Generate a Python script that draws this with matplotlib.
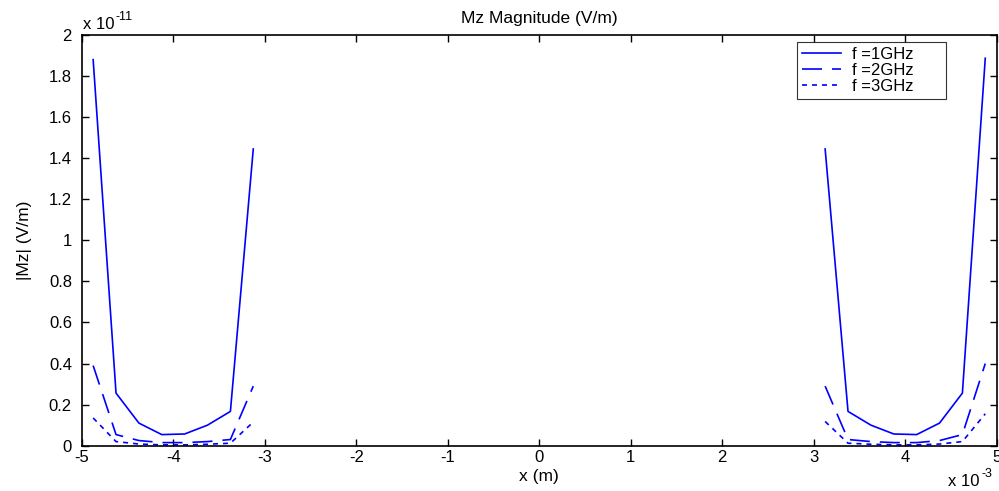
import numpy as np
import matplotlib
matplotlib.use("Agg")
import matplotlib.pyplot as plt

# x positions (units of 1e-3 m)
x_left = [-4.875, -4.625, -4.375, -4.125, -3.875, -3.625, -3.375, -3.125]
x_right = [3.125, 3.375, 3.625, 3.875, 4.125, 4.375, 4.625, 4.875]

# |Mz| values (units of 1e-11 V/m)
f1_left = [1.88, 0.256, 0.11, 0.054, 0.057, 0.10, 0.167, 1.445]
f1_right = [1.445, 0.167, 0.10, 0.057, 0.054, 0.11, 0.256, 1.887]
f2_left = [0.39, 0.054, 0.025, 0.015, 0.015, 0.02, 0.03, 0.29]
f2_right = [0.29, 0.03, 0.02, 0.015, 0.015, 0.025, 0.054, 0.40]
f3_left = [0.135, 0.02, 0.008, 0.004, 0.004, 0.007, 0.012, 0.115]
f3_right = [0.118, 0.012, 0.007, 0.004, 0.004, 0.008, 0.02, 0.155]

labels = ["f =1GHz", "f =2GHz", "f =3GHz"]
xticks = [-5, -4, -3, -2, -1, 0, 1, 2, 3, 4, 5]
yticks = [0, 0.2, 0.4, 0.6, 0.8, 1, 1.2, 1.4, 1.6, 1.8, 2]
ytick_labels = ["0", "0.2", "0.4", "0.6", "0.8", "1", "1.2", "1.4", "1.6", "1.8", "2"]

plt.rcParams['font.family'] = ['Liberation Sans', 'DejaVu Sans']
plt.rcParams['font.size'] = 12

fig = plt.figure(figsize=(9.99, 4.91), dpi=100)
ax = fig.add_axes([0.0818, 0.0923, 0.9159, 0.8364])

blue = (0, 0, 1)
styles = ['-', (0, (12, 6)), (0, (3, 3))]
series = [(f1_left, f1_right), (f2_left, f2_right), (f3_left, f3_right)]
for (yl, yr), ls, lab in zip(series, styles, labels):
    xs = x_left + [np.nan] + x_right
    ys = yl + [np.nan] + yr
    ax.plot(xs, ys, color=blue, lw=1.2, linestyle=ls, label=lab)

ax.set_xlim(-5, 5)
ax.set_ylim(0, 2)
ax.set_xticks(xticks)
ax.set_xticklabels([str(t) for t in xticks])
ax.set_yticks(yticks)
ax.set_yticklabels(ytick_labels)
ax.tick_params(axis='x', direction='in', top=True, length=5, width=1, labelsize=12, pad=3)
ax.tick_params(axis='y', direction='in', right=True, length=5, width=1, labelsize=12, pad=7)
for s in ax.spines.values():
    s.set_linewidth(1.2)

ax.set_title("Mz Magnitude (V/m)", fontsize=12.5, pad=9)
ax.set_xlabel("x (m)", fontsize=12.5, labelpad=3)
ax.set_ylabel("|Mz| (V/m)", fontsize=12.5, labelpad=12)

# exponent labels (MATLAB style)
fig.text(83/999, 1 - 29/491, "x 10", ha='left', va='baseline', fontsize=12)
fig.text(116/999, 1 - 20/491, "-11", ha='left', va='baseline', fontsize=9)
fig.text(948/999, 1 - 486/491, "x 10", ha='left', va='baseline', fontsize=12)
fig.text(982/999, 1 - 477/491, "-3", ha='left', va='baseline', fontsize=9)

ax_w = 0.9159 * 999
ax_h = 0.8364 * 491
lx0 = (797 - 81.7) / ax_w
lx1 = (946 - 81.7) / ax_w
ly1 = (445.7 - 42.3) / ax_h
leg = ax.legend(loc='upper left', bbox_to_anchor=(lx0, ly1 - 0.2, lx1 - lx0, 0.2),
                mode='expand', frameon=True, fancybox=False, edgecolor='black',
                handlelength=2.34, borderaxespad=0, labelspacing=0.05, borderpad=0.3,
                handletextpad=0.66, fontsize=12)
leg.get_frame().set_linewidth(0.8)

fig.savefig("out.png", dpi=100)
